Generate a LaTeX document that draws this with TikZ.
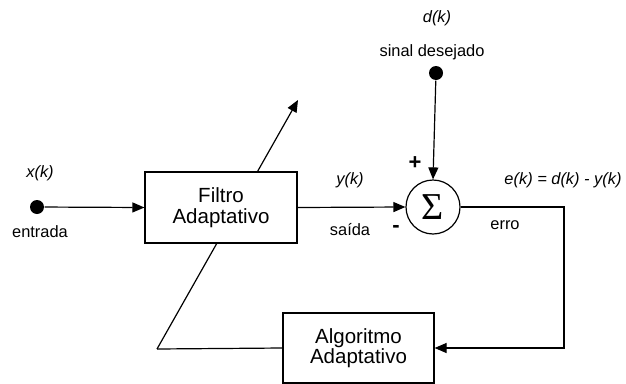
\documentclass[tikz,border=0pt]{standalone}
\usepackage{fontspec}
\setmainfont{Liberation Sans}
\newfontfamily\sigmafont{Liberation Serif}
\usetikzlibrary{arrows.meta, backgrounds, positioning}
\tikzstyle{block}=[rectangle, draw, fill=white, minimum width=152pt, minimum height=71pt, align=center, font=\fontsize{20.5}{20.5}\selectfont]
\tikzstyle{summer}=[circle, draw, fill=white, minimum size=54pt, inner sep=0pt, font=\sigmafont\fontsize{38}{38}\selectfont]
\tikzstyle{terminal}=[circle, fill, minimum size=14pt, inner sep=0pt]
\tikzstyle{signal}=[font=\fontsize{16.4}{17}\selectfont\itshape]
\tikzstyle{caption}=[font=\fontsize{16.4}{17}\selectfont]

\begin{document}
\begin{tikzpicture}[x=1pt, y=-1pt, line width=1.2pt, >={Triangle[length=12pt,width=10pt]}]
      \useasboundingbox (0,0) rectangle (626,383);

      % blocos
      \node[block] (filtro) at (221,207.5) {Filtro\\Adaptativo};
      \node[block, minimum width=151pt, minimum height=70pt] (alg) at (358.5,348) {Algoritmo\\Adaptativo};
      \node[summer] (sum) at (433,207) {Σ};

      % terminais
      \node[terminal] (xin) at (37,207) {};
      \node[terminal] (din) at (436,73) {};
      \coordinate (fb) at (157,349);
      \coordinate (adj) at (298,100);
      \coordinate (eright) at (564,348);

      % textos
      \node[signal] (xk) at (40,173) {x(k)};
      \node[caption] (entrada) at (40,232) {entrada};
      \node[signal] (yk) at (350,180) {y(k)};
      \node[caption] (saida) at (350,230) {saída};
      \node[caption, font=\fontsize{22}{22}\selectfont] (minus) at (396,229) {\textbf{-}};
      \node[caption, font=\fontsize{22}{22}\selectfont] (plus) at (415,163) {\textbf{+}};
      \node[signal] (dk) at (437,18) {d(k)};
      \node[caption] (desejado) at (432,52) {sinal desejado};
      \node[signal] (ek) at (563,180) {e(k) = d(k) - y(k)};
      \node[caption] (erro) at (505,225) {erro};

      % sinais
      \draw[->] (xin) -- (filtro.west);
      \draw[->] (filtro.east) -- (sum.west);
      \draw[->] (din) -- (sum.north);
      \draw[->] (sum.east) -| (eright) -- (alg.east);
      \draw (alg.west) -- (fb);
      \begin{scope}[on background layer]
            \draw[->, line width=1.2pt] (fb) -- (adj);
      \end{scope}
\end{tikzpicture}
\end{document}
